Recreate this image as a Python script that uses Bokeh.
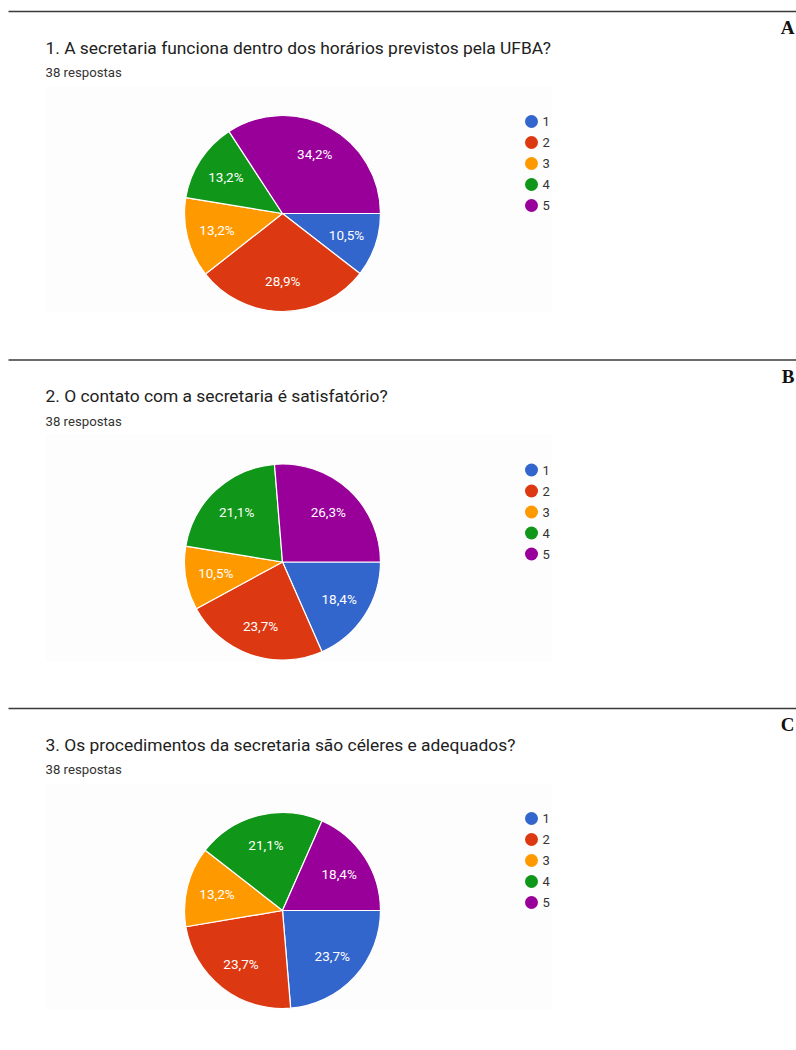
import numpy as np
from bokeh.plotting import figure
from bokeh.models import Range1d
from bokeh.core.properties import value
from bokeh.embed import file_html
from bokeh.resources import INLINE

# Survey results (percent of 38 responses per rating 1..5)
questions = [
    "1. A secretaria funciona dentro dos horários previstos pela UFBA?",
    "2. O contato com a secretaria é satisfatório?",
    "3. Os procedimentos da secretaria são céleres e adequados?",
]
panel_letters = ["A", "B", "C"]
responses_note = "38 respostas"
options = ["1", "2", "3", "4", "5"]
colors = ["#3366cc", "#dc3912", "#ff9900", "#109618", "#990099"]
shares_q1 = [10.5, 28.9, 13.2, 13.2, 34.2]
shares_q2 = [18.4, 23.7, 10.5, 21.1, 26.3]
shares_q3 = [23.7, 23.7, 13.2, 21.1, 18.4]
all_shares = [shares_q1, shares_q2, shares_q3]

W, H = 796, 1050
PANEL_STEP = 348.5
R = 98
LABEL_R = 0.69 * R

p = figure(width=W, height=H, x_range=Range1d(0, W), y_range=Range1d(H, 0),
           output_backend="svg", toolbar_location=None, min_border=0)
p.axis.visible = False
p.grid.visible = False
p.outline_line_color = None
p.background_fill_color = "white"
p.border_fill_color = "white"

FONT = value("Roboto")

for k, (q, letter, shares) in enumerate(zip(questions, panel_letters, all_shares)):
    off = k * PANEL_STEP
    # separator rule and panel letter
    p.segment(x0=8, y0=11 + off, x1=W, y1=11 + off, line_color="#3a3a3a", line_width=1.6)
    p.text(x=[794], y=[27 + off], text=[letter], text_font=value("Liberation Serif"),
           text_font_style="bold", text_font_size="19px", text_align="right",
           text_baseline="middle", text_color="#111111")
    # question title and response count
    p.text(x=[45], y=[47 + off], text=[q], text_font=FONT, text_font_size="17.4px",
           text_baseline="middle", text_color="#212121")
    p.text(x=[45], y=[72 + off], text=[responses_note], text_font=FONT,
           text_font_size="13.2px", text_baseline="middle", text_color="#333333")
    # faint chart area
    p.quad(left=45, right=552, top=86 + off, bottom=312 + off,
           fill_color="#fdfdfd", line_color=None)

    # pie: slices run clockwise starting at 3 o'clock
    vals = np.array(shares, dtype=float)
    frac = vals / vals.sum()
    ends = np.cumsum(frac) * 2 * np.pi
    starts = ends - frac * 2 * np.pi
    cx, cy = 282, 213 + off
    p.wedge(x=cx, y=cy, radius=R, start_angle=-starts, end_angle=-ends,
            direction="clock", fill_color=colors, line_color="white", line_width=1.2)
    mids = (starts + ends) / 2
    lx = cx + LABEL_R * np.cos(mids)
    ly = cy + LABEL_R * np.sin(mids)
    labels = [f"{v:.1f}%".replace(".", ",") for v in shares]
    p.text(x=lx, y=ly, text=labels, text_font=FONT, text_font_size="13.5px",
           text_align="center", text_baseline="middle", text_color="white")

    # legend
    ys = [121 + off + 21 * i for i in range(len(options))]
    p.scatter(x=[531] * len(options), y=ys, size=13, marker="circle",
              fill_color=colors, line_color=None)
    p.text(x=[542] * len(options), y=ys, text=options, text_font=FONT,
           text_font_size="13px", text_baseline="middle", text_color="#333333")

open("out.html", "w").write(file_html(p, INLINE))
